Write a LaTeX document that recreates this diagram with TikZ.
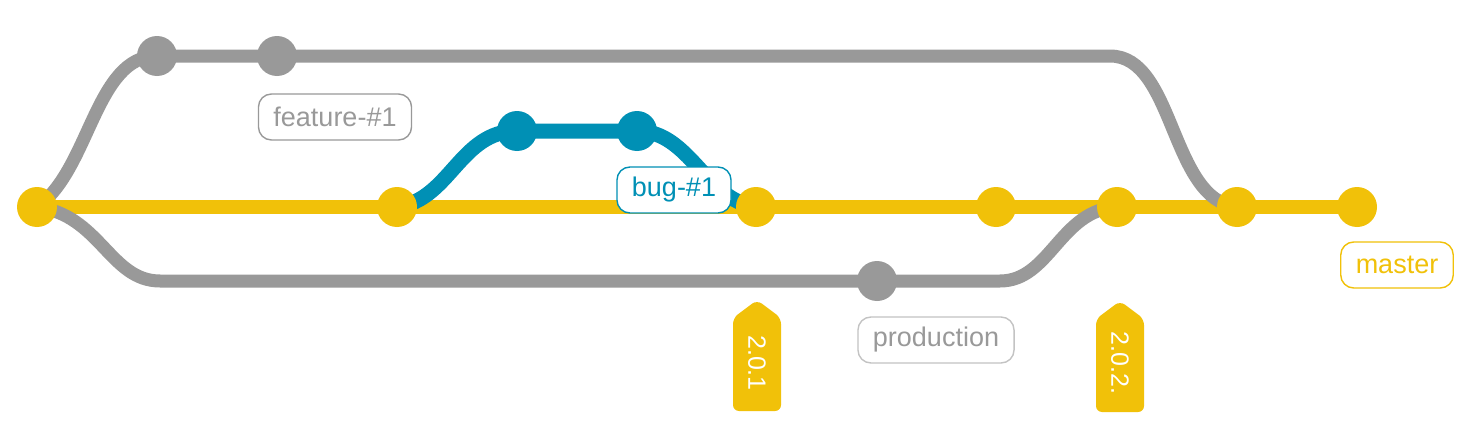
\documentclass[tikz,border=0pt]{standalone}
\usepackage{fontspec}
\setmainfont{Liberation Sans}
\usetikzlibrary{backgrounds}
\definecolor{gy}{RGB}{241,193,9}
\definecolor{gg}{RGB}{153,153,153}
\definecolor{gb}{RGB}{0,144,181}
\definecolor{gl}{RGB}{195,195,195}
\begin{document}
\begin{tikzpicture}[x=0.5pt,y=-0.5pt,
  commit/.style={circle,inner sep=0pt,minimum size=20pt},
  lbl/.style={draw,rounded corners=6.5pt,line width=0.7pt,fill=white,
    font=\fontsize{13.5}{16}\selectfont,inner xsep=7.5pt,minimum height=23pt},
  tagtext/.style={text=white,font=\fontsize{12.5}{15}\selectfont,rotate=-90,inner sep=0pt},
  yline/.style={gy,line width=7pt},
  gline/.style={gg,line width=6.5pt},
  bline/.style={gb,line width=7.5pt}]
\useasboundingbox (0,0) rectangle (1469,428);
% commits
\node[commit,fill=gy] (m0) at (37,207) {};
\node[commit,fill=gy] (m1) at (397,207) {};
\node[commit,fill=gy] (m2) at (756,207) {};
\node[commit,fill=gy] (m3) at (996,207) {};
\node[commit,fill=gy] (m4) at (1117,207) {};
\node[commit,fill=gy] (m5) at (1237,207) {};
\node[commit,fill=gy] (m6) at (1357,207) {};
\node[commit,fill=gg] (f1) at (157,56) {};
\node[commit,fill=gg] (f2) at (277,56) {};
\node[commit,fill=gg] (p1) at (877,281) {};
\node[commit,fill=gb] (b1) at (517,131) {};
\node[commit,fill=gb] (b2) at (637,131) {};
\coordinate (fe) at (1110,56);
\coordinate (ps) at (160,281);
\coordinate (pe) at (1000,281);
\begin{scope}[on background layer]
  \fill[white] (0,0) rectangle (1469,428);
  \draw[yline] (m0.center) -- (m6.center);
  \draw[gline] (m0.center) .. controls (90,170) and (95,56) .. (f1.center)
     -- (f2.center) -- (fe) .. controls (1175,56) and (1170,200) .. (m5.center);
  \draw[gline] (m0.center) .. controls (100,215) and (110,281) .. (ps)
     -- (p1.center) -- (pe) .. controls (1050,281) and (1060,210) .. (m4.center);
  \draw[bline] (m1.center) .. controls (450,200) and (460,131) .. (b1.center)
     -- (b2.center) .. controls (690,131) and (705,200) .. (m2.center);
\end{scope}
% labels
\node[lbl,draw=gg,text=gg] (lf) at (335,117) {feature-\#1};
\node[lbl,draw=gb,text=gb] (lb) at (674,190) {bug-\#1};
\node[lbl,draw=gl,text=gg] (lp) at (936,340) {production};
\node[lbl,draw=gy,text=gy] (lm) at (1397,265) {master};
% tags
\fill[gy,rounded corners=3pt] (757,300) -- (781,318) -- (781,411) -- (733,411) -- (733,318) -- cycle;
\node[tagtext] (t1) at (757,363) {2.0.1};
\fill[gy,rounded corners=3pt] (1120,301) -- (1144,319) -- (1144,412) -- (1096,412) -- (1096,319) -- cycle;
\node[tagtext] (t2) at (1120,363) {2.0.2.};
\end{tikzpicture}
\end{document}
